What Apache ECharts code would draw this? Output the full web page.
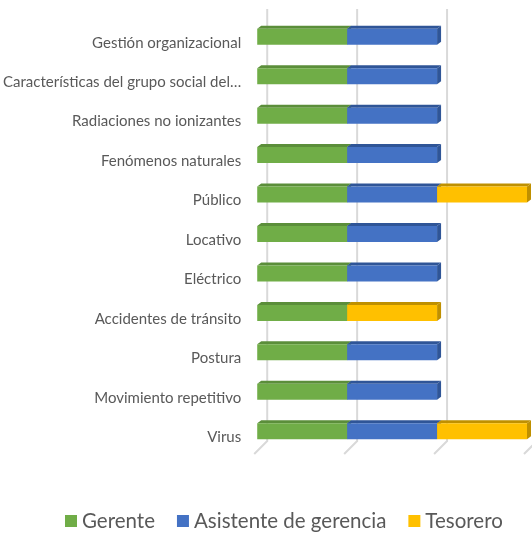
<!DOCTYPE html>
<html><head><meta charset="utf-8">
<script src="https://cdn.jsdelivr.net/npm/echarts@6/dist/echarts.min.js"></script>
<style>html,body{margin:0;padding:0;background:#fff;overflow:hidden}#c{width:532px;height:533px}</style>
</head><body><div id="c"></div>
<script>
const categories = ["Gestión organizacional","Características del grupo social del…","Radiaciones no ionizantes","Fenómenos naturales","Público","Locativo","Eléctrico","Accidentes de tránsito","Postura","Movimiento repetitivo","Virus"];
const gerente =    [1,1,1,1,1,1,1,1,1,1,1];
const asistente =  [1,1,1,1,1,1,1,0,1,1,1];
const tesorero =   [0,0,0,0,1,0,0,1,0,0,1];
const seriesNames = ["Gerente","Asistente de gerencia","Tesorero"];
const frontColors = ["#70AD47","#4472C4","#FFC000"];
const topColors = ["#5B8E3A","#2F5597","#BF9000"];
const xTicks = [0,1,2,3];

const all = [gerente, asistente, tesorero];
const chart = echarts.init(document.getElementById('c'));
const DX = 4, DY = 3, HALF = 8, SHIFT = -6;

function barSeries(si){
  const data = categories.map((c,i)=>{
    let start = 0; for(let k=0;k<si;k++) start += all[k][i];
    return [start, start + all[si][i], i];
  });
  return {
    type:'custom', name: seriesNames[si], coordinateSystem:'cartesian2d',
    encode:{x:[0,1], y:2}, z: 5,
    itemStyle:{color: frontColors[si]},
    data: data,
    renderItem: function(params, api){
      const s = api.value(0), e = api.value(1), idx = api.value(2);
      if (e - s <= 0) return null;
      const p0 = api.coord([s, idx]), p1 = api.coord([e, idx]);
      const cy = p0[1] + SHIFT;
      const x0 = p0[0], x1 = p1[0], y0 = cy - HALF, y1 = cy + HALF;
      return {type:'group', children:[
        {type:'polygon', shape:{points:[[x0,y0],[x0+DX,y0-DY],[x1+DX,y0-DY],[x1,y0]]}, style:{fill: topColors[si]}},
        {type:'polygon', shape:{points:[[x1,y0],[x1+DX,y0-DY],[x1+DX,y1-DY],[x1,y1]]}, style:{fill: topColors[si]}},
        {type:'rect', shape:{x:x0, y:y0, width:x1-x0, height:y1-y0}, style:{fill: frontColors[si]}}
      ]};
    }
  };
}

const gridSeries = {
  type:'custom', coordinateSystem:'cartesian2d', silent:true, legendHoverLink:false,
  encode:{x:0, y:1},
  data: xTicks.map(v=>[v, 0]),
  z: 1,
  renderItem: function(params, api){
    const cs = params.coordSys;
    const x = api.coord([api.value(0), 0])[0];
    const top = cs.y - 14, bot = cs.y + cs.height;
    return {type:'polyline', shape:{points:[[x+10, top],[x+10, bot-16],[x-3, bot-3]]},
      style:{stroke:'#D9D9D9', lineWidth:2, fill:null}};
  }
};

chart.setOption({
  animation:false,
  textStyle:{fontFamily:'Lato, "Liberation Sans", Arial, sans-serif'},
  grid:{left:254, right:5, top:23, bottom:76, containLabel:false},
  xAxis:{type:'value', min:0, max:3, interval:1, show:false, splitLine:{show:false}},
  yAxis:{type:'category', data:categories, inverse:true,
    axisLine:{show:false}, axisTick:{show:false}, splitLine:{show:false},
    axisLabel:{color:'#595959', fontSize:15, margin:16}},
  legend:{top:504, left:60, itemWidth:12, itemHeight:12, itemGap:22,
    icon:'rect', data: seriesNames.map((n,i)=>({name:n, itemStyle:{color:frontColors[i]}})),
    textStyle:{color:'#595959', fontSize:20.5, lineHeight:24}},
  series:[gridSeries, barSeries(0), barSeries(1), barSeries(2)]
});
</script></body></html>
